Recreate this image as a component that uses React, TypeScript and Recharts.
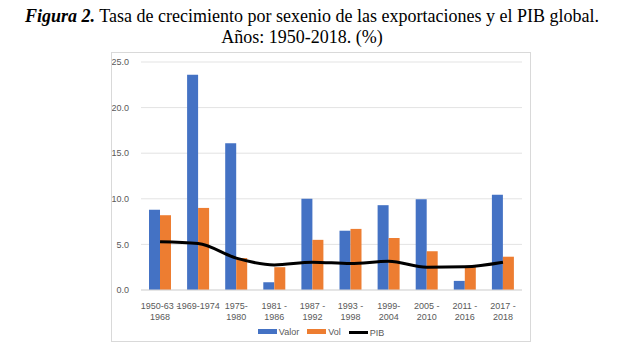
import { ComposedChart, Bar, Line, XAxis, YAxis, CartesianGrid } from 'recharts'

// Periods (line breaks as in the source axis)
const PERIODS = [
  '1950-63 -\n1968',
  '1969-1974',
  '1975-\n1980',
  '1981 -\n1986',
  '1987 -\n1992',
  '1993 -\n1998',
  '1999-\n2004',
  '2005 -\n2010',
  '2011 -\n2016',
  '2017 -\n2018',
]
const VALOR = [8.8, 23.6, 16.1, 0.85, 10.0, 6.5, 9.3, 9.95, 1.0, 10.45]
const VOL = [8.2, 9.0, 3.5, 2.5, 5.5, 6.7, 5.7, 4.25, 2.55, 3.65]
const PIB = [5.3, 5.1, 3.5, 2.75, 3.05, 2.9, 3.15, 2.5, 2.55, 3.05]
const Y_TICKS = [0, 5, 10, 15, 20, 25]

const DATA = PERIODS.map((period, i) => ({
  period,
  Valor: VALOR[i],
  Vol: VOL[i],
  PIB: PIB[i],
}))

const BLUE = '#4472C4'
const ORANGE = '#ED7D31'
const TEXT = '#595959'
const FONT = "'Liberation Sans', 'DejaVu Sans', sans-serif"
const SERIF = "'Liberation Serif', 'Times New Roman', serif"

function PeriodTick(props: any) {
  const { x, y, payload } = props
  const lines = String(payload.value).split('\n')
  return (
    <text x={x} y={y + 4} textAnchor="middle" fill={TEXT} fontSize={9} fontFamily={FONT}>
      {lines.map((l, i) => (
        <tspan key={i} x={x} dy={i === 0 ? 7 : 11}>
          {l}
        </tspan>
      ))}
    </text>
  )
}

function LegendRow() {
  const item = (label: string, swatch: any, last = false) => (
    <span style={{ display: 'inline-flex', alignItems: 'center', marginRight: last ? 0 : 8 }}>
      {swatch}
      <span style={{ marginLeft: 2 }}>{label}</span>
    </span>
  )
  return (
    <div style={{ textAlign: 'center', fontSize: 9, fontFamily: FONT, color: TEXT, lineHeight: '10px' }}>
      {item('Valor', <span style={{ width: 19, height: 5, background: BLUE, display: 'inline-block' }} />)}
      {item('Vol', <span style={{ width: 19, height: 5, background: ORANGE, display: 'inline-block' }} />)}
      {item('PIB', <span style={{ width: 19, height: 3, background: '#000', display: 'inline-block' }} />, true)}
    </div>
  )
}

const titleStyle = {
  position: 'absolute' as const,
  left: 0,
  textAlign: 'center' as const,
  fontFamily: SERIF,
  fontSize: 18,
  lineHeight: '21px',
  color: '#000',
  whiteSpace: 'nowrap' as const,
}

export default function App() {
  return (
    <div style={{ position: 'fixed', left: 0, top: 0, width: 643, height: 352, background: '#fff' }}>
      <div style={{ ...titleStyle, top: 6, width: 624 }}>
        <b>
          <i>Figura 2.</i>
        </b>{' '}
        Tasa de crecimiento por sexenio de las exportaciones y el PIB global.
      </div>
      <div style={{ ...titleStyle, top: 27, width: 604 }}>Años: 1950-2018. (%)</div>
      <div
        style={{
          position: 'absolute',
          left: 111,
          top: 52,
          width: 420,
          height: 290,
          border: '1px solid #d9d9d9',
          boxSizing: 'border-box',
        }}
      >
        <ComposedChart
          width={418}
          height={288}
          data={DATA}
          margin={{ top: 9, right: 8, bottom: 11, left: 0 }}
          barCategoryGap="21%"
          barGap={0}
        >
          <CartesianGrid vertical={false} stroke="#e3e3e3" />
          <XAxis
            dataKey="period"
            height={40}
            tick={<PeriodTick />}
            tickLine={false}
            axisLine={{ stroke: '#d9d9d9' }}
            interval={0}
          />
          <YAxis
            width={29}
            domain={[0, 25]}
            ticks={Y_TICKS}
            tickFormatter={(v: number) => v.toFixed(1)}
            tick={{ fill: TEXT, fontSize: 9, fontFamily: FONT }}
            tickLine={false}
            axisLine={false}
            tickMargin={6}
          />
          <Bar dataKey="Valor" fill={BLUE} isAnimationActive={false} />
          <Bar dataKey="Vol" fill={ORANGE} isAnimationActive={false} />
          <Line
            type="monotone"
            dataKey="PIB"
            stroke="#000"
            strokeWidth={3}
            dot={false}
            isAnimationActive={false}
          />
        </ComposedChart>
        <div style={{ position: 'absolute', left: 0, right: 0, top: 273 }}>
          <LegendRow />
        </div>
      </div>
    </div>
  )
}
